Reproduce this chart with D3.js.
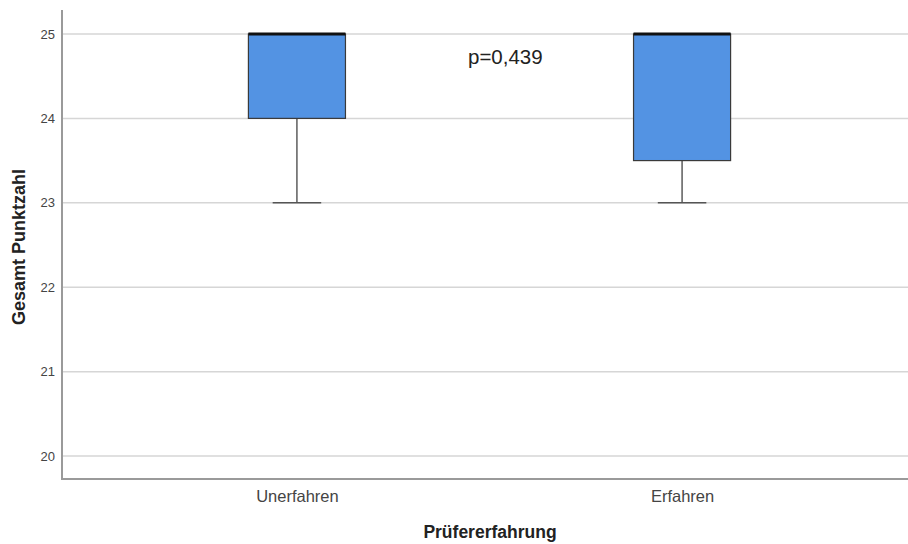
<!DOCTYPE html>
<html>
<head>
<meta charset="utf-8">
<script src="https://cdn.jsdelivr.net/npm/d3@7/dist/d3.min.js"></script>
<style>
  html, body { margin: 0; padding: 0; background: #fff; }
  svg { display: block; font-family: "Liberation Sans", Arial, sans-serif; }
</style>
</head>
<body>
<svg id="chart" width="908" height="544"></svg>
<script>
// Groups and their box-plot summaries
const categories = ["Unerfahren", "Erfahren"];
const q1Values = [24, 23.5];
const medianValues = [25, 25];
const q3Values = [25, 25];
const whiskerLow = [23, 23];
const whiskerHigh = [25, 25];
const yTicks = [20, 21, 22, 23, 24, 25];
const pLabel = "p=0,439";

const boxes = categories.map((c, i) => ({
  cat: c, q1: q1Values[i], med: medianValues[i], q3: q3Values[i],
  lo: whiskerLow[i], hi: whiskerHigh[i]
}));

const svg = d3.select("#chart");
const plotLeft = 62, plotRight = 917, plotTop = 10, plotBottom = 479;

const y = d3.scaleLinear().domain([19.728, 25.284]).range([plotBottom, plotTop]);
const x = d3.scalePoint().domain(categories).range([plotLeft, plotRight]).padding(0.61);
const step = x.step();
const boxW = step * 0.252;
const capW = boxW * 0.5;

// Horizontal gridlines
svg.append("g").selectAll("line").data(yTicks).join("line")
  .attr("x1", plotLeft).attr("x2", plotRight)
  .attr("y1", d => y(d)).attr("y2", d => y(d))
  .attr("stroke", "#d6d6d6").attr("stroke-width", 1.5);

// Y axis
const yAxis = svg.append("g").attr("transform", `translate(${plotLeft},0)`)
  .call(d3.axisLeft(y).tickValues(yTicks).tickFormat(d3.format("d")).tickSize(0).tickPadding(7));
yAxis.select(".domain").remove();
yAxis.selectAll("text").attr("fill", "#444").style("font-size", "13px");

// X axis
const xAxis = svg.append("g").attr("transform", `translate(0,${plotBottom})`)
  .call(d3.axisBottom(x).tickSize(0).tickPadding(11));
xAxis.select(".domain").remove();
xAxis.selectAll("text").attr("fill", "#444").style("font-size", "16.5px");

// Axis lines
svg.append("line").attr("x1", plotLeft).attr("x2", plotLeft).attr("y1", plotTop).attr("y2", plotBottom)
  .attr("stroke", "#9a9a9a").attr("stroke-width", 2);
svg.append("line").attr("x1", plotLeft - 1).attr("x2", plotRight).attr("y1", plotBottom).attr("y2", plotBottom)
  .attr("stroke", "#9a9a9a").attr("stroke-width", 2);

// Box plots
const g = svg.append("g").selectAll("g").data(boxes).join("g");

g.append("line")
  .attr("x1", d => x(d.cat)).attr("x2", d => x(d.cat))
  .attr("y1", d => y(d.lo)).attr("y2", d => y(d.q1))
  .attr("stroke", "#333").attr("stroke-width", 1.2);
g.append("line")
  .attr("x1", d => x(d.cat)).attr("x2", d => x(d.cat))
  .attr("y1", d => y(d.q3)).attr("y2", d => y(d.hi))
  .attr("stroke", "#333").attr("stroke-width", 1.2);
g.append("line")
  .attr("x1", d => x(d.cat) - capW / 2).attr("x2", d => x(d.cat) + capW / 2)
  .attr("y1", d => y(d.lo)).attr("y2", d => y(d.lo))
  .attr("stroke", "#555").attr("stroke-width", 1.5);

g.append("rect")
  .attr("x", d => x(d.cat) - boxW / 2).attr("width", boxW)
  .attr("y", d => y(d.q3)).attr("height", d => y(d.q1) - y(d.q3))
  .attr("fill", "#5393e3").attr("stroke", "#3a3a3a").attr("stroke-width", 1.2);

g.append("line")
  .attr("x1", d => x(d.cat) - boxW / 2).attr("x2", d => x(d.cat) + boxW / 2)
  .attr("y1", d => y(d.med)).attr("y2", d => y(d.med))
  .attr("stroke", "#111").attr("stroke-width", 3);

// Test annotation
svg.append("text").attr("x", 468).attr("y", 64)
  .attr("fill", "#222").style("font-size", "20.5px").text(pLabel);

// Axis titles
svg.append("text").attr("transform", "translate(25,247) rotate(-90)")
  .attr("text-anchor", "middle").attr("fill", "#222")
  .style("font-size", "18px").style("font-weight", "bold").text("Gesamt Punktzahl");
svg.append("text").attr("x", 490).attr("y", 538)
  .attr("text-anchor", "middle").attr("fill", "#222")
  .style("font-size", "17.5px").style("font-weight", "bold").text("Prüfererfahrung");
</script>
</body>
</html>
